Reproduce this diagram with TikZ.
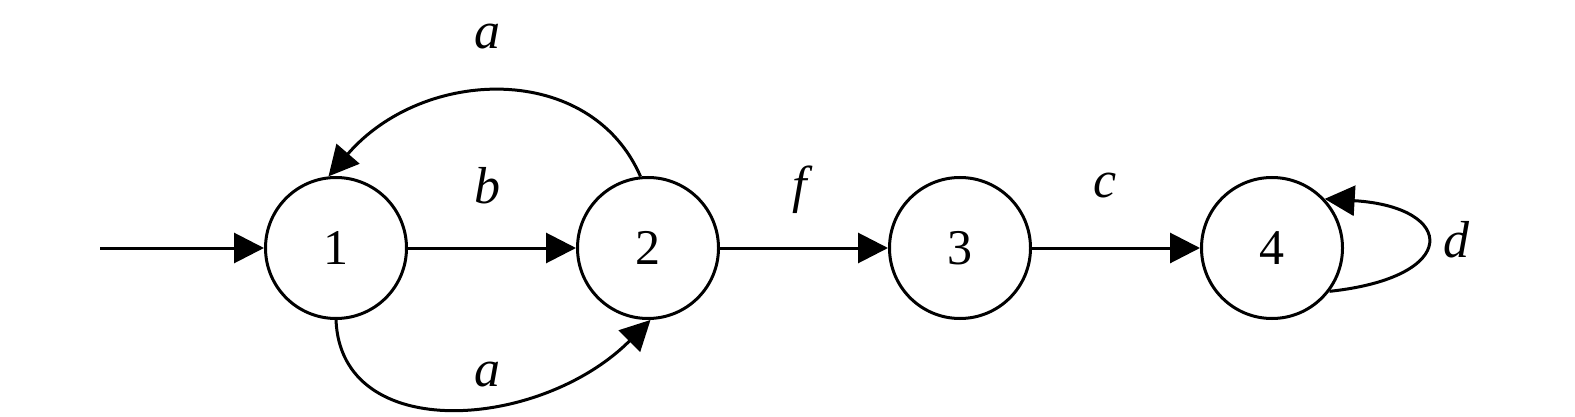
\documentclass[tikz,border=0pt]{standalone}
\usepackage{fontspec}
\setmainfont{Liberation Serif}
\usetikzlibrary{arrows.meta}
\begin{document}
\begin{tikzpicture}[x=1pt,y=-1pt,
  state/.style={circle,draw,line width=3pt,minimum size=141pt,inner sep=0pt,font=\fontsize{50}{56}\selectfont},
  lbl/.style={font=\fontsize{52}{56}\selectfont\itshape,inner sep=0pt},
  edge/.style={line width=3pt,-{Triangle[length=30pt,width=30pt]}}]
\useasboundingbox (0,0) rectangle (1575,417);
\node[state] (n1) at (336,248) {1};
\node[state] (n2) at (648,248) {2};
\node[state] (n3) at (960,248) {3};
\node[state] (n4) at (1272,248) {4};
\coordinate (s) at (100,248);
\draw[edge] (s) -- (n1);
\draw[edge] (n1) -- (n2);
\draw[edge] (n2) -- (n3);
\draw[edge] (n3) -- (n4);
\draw[edge] (n2.96) .. controls +(-50,-115) and +(95,-110) .. (n1.96);
\draw[edge] (n1.-90) .. controls +(5,125) and +(-110,110) .. (n2.-88);
\draw[edge] (n4.-37) .. controls +(132,-14) and +(132,8) .. (n4.43);
\node[lbl] (la1) at (487,37) {a};
\node[lbl] (lb) at (487,186) {b};
\node[lbl] (la2) at (487,375) {a};
\node[lbl] (lf) at (800,190) {f};
\node[lbl] (lc) at (1105,186) {c};
\node[lbl] (ld) at (1456,240) {d};
\end{tikzpicture}
\end{document}
